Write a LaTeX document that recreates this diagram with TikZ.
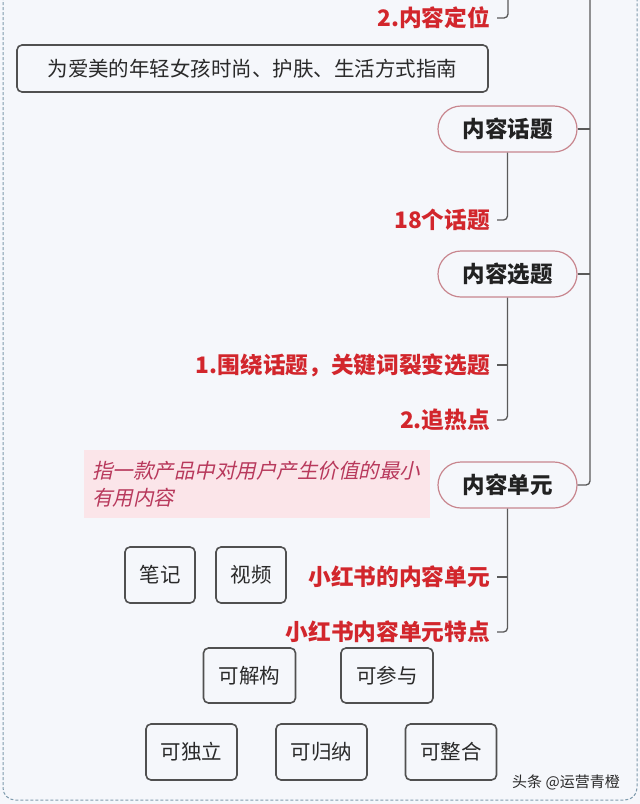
\documentclass[tikz,border=0pt]{standalone}
\usepackage{fontspec}
\newfontfamily\cjk{Noto Sans CJK SC}
\newfontfamily\cjkit[FakeSlant=0.22]{Noto Sans CJK SC}
\definecolor{bg}{HTML}{F5F7FB}
\definecolor{borderc}{HTML}{7F9CAE}
\definecolor{linec}{HTML}{5A5A5A}
\definecolor{pillc}{HTML}{C8868E}
\definecolor{boxc}{HTML}{505050}
\definecolor{txt}{HTML}{222222}
\definecolor{txt2}{HTML}{2A2A2A}
\definecolor{redc}{HTML}{D2262C}
\definecolor{notefill}{HTML}{FBE5E9}
\definecolor{notetxt}{HTML}{B8395C}
\begin{document}
\begin{tikzpicture}[x=1pt,y=-1pt,
  pill/.style={draw=pillc, line width=1.2pt, rounded corners=23pt, minimum width=139pt, minimum height=46pt, inner sep=0pt, fill=bg, text=txt, font=\cjk\bfseries\fontsize{22.5}{27}\selectfont},
  box/.style={draw=boxc, line width=1.6pt, rounded corners=5pt, inner sep=0pt, text=txt2, font=\cjk\fontsize{20.5}{24}\selectfont},
  redlbl/.style={inner sep=0pt, outer xsep=7pt, anchor=east, text=redc, font=\cjk\bfseries\fontsize{22.7}{27}\selectfont},
  conn/.style={draw=linec, line width=1.3pt, rounded corners=4pt}]
\useasboundingbox (0,0) rectangle (640,804);
\clip (0,0) rectangle (640,804);
\fill[bg] (0,0) rectangle (640,804);
\draw[borderc, line width=1pt, dash pattern=on 3pt off 2pt, rounded corners=12pt] (3,-30) rectangle (637,800);

% nodes
\node[redlbl] (lbl1) at (497,18) {2.内容定位};
\node[box, minimum width=471pt, minimum height=47pt] (goal) at (252.5,68.5) {为爱美的年轻女孩时尚、护肤、生活方式指南};
\node[pill] (n1) at (507.5,129) {内容话题};
\node[redlbl] (lbl2) at (497,220) {18个话题};
\node[pill] (n2) at (507.5,274) {内容选题};
\node[redlbl] (lbl3) at (497,365) {1.围绕话题，关键词裂变选题};
\node[redlbl] (lbl4) at (497,420) {2.追热点};
\node[pill] (n3) at (507.5,485) {内容单元};
\node[anchor=north west, fill=notefill, minimum width=346pt, minimum height=68pt, inner xsep=8pt, inner ysep=0pt, text width=330pt, align=left, text=notetxt, font=\cjkit\fontsize{20.5}{27}\selectfont] (note) at (84,450) {指一款产品中对用户产生价值的最小\\有用内容};
\node[redlbl] (lbl5) at (497,577) {小红书的内容单元};
\node[redlbl] (lbl6) at (497,632) {小红书内容单元特点};
\node[box, minimum width=70pt, minimum height=56pt] (b1) at (160,575) {笔记};
\node[box, minimum width=70pt, minimum height=56pt] (b2) at (251,575) {视频};
\node[box, minimum width=92pt, minimum height=55pt] (c1) at (249.5,675.5) {可解构};
\node[box, minimum width=92pt, minimum height=55pt] (c2) at (387,675.5) {可参与};
\node[box, minimum width=91pt, minimum height=56pt] (d1) at (191.5,752) {可独立};
\node[box, minimum width=91pt, minimum height=56pt] (d2) at (321.5,752) {可归纳};
\node[box, minimum width=91pt, minimum height=56pt] (d3) at (451,752) {可整合};
\node[inner sep=0pt, text=txt2, font=\cjk\fontsize{15}{18}\selectfont] (wm) at (566,782) {头条 @运营青橙};

% connectors
\coordinate (top1) at (508,0);
\coordinate (top2) at (590,0);
\draw[conn] (top1) |- (lbl1.east);
\draw[conn] (top2) |- (n3.east);
\draw[conn] (n1.east) -- (n1.east -| top2);
\draw[conn] (n2.east) -- (n2.east -| top2);
\draw[conn] (n1.south) |- (lbl2.east);
\draw[conn] (n2.south) |- (lbl4.east);
\draw[conn] (n2.south |- lbl3.east) -- (lbl3.east);
\draw[conn] (n3.south) |- (lbl6.east);
\draw[conn] (n3.south |- lbl5.east) -- (lbl5.east);
\end{tikzpicture}
\end{document}
